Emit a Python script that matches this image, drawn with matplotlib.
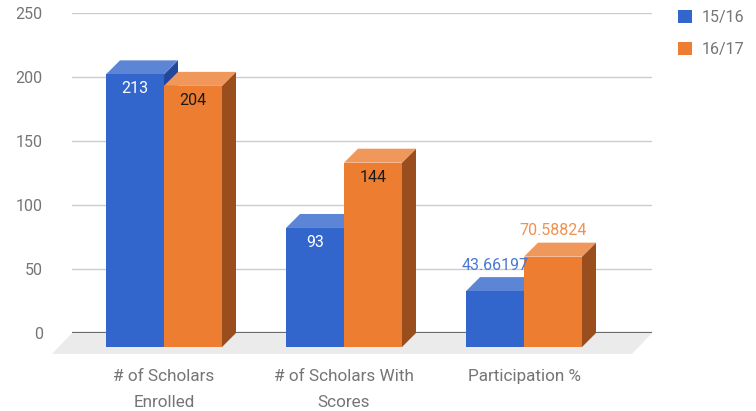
import matplotlib
matplotlib.use("Agg")
import matplotlib.pyplot as plt
from matplotlib.transforms import ScaledTranslation, IdentityTransform
from matplotlib.patches import Polygon, Patch
import numpy as np

# ---- data ----
categories = ["# of Scholars\nEnrolled", "# of Scholars With\nScores", "Participation %"]
series_names = ["15/16", "16/17"]
values_1516 = [213, 93, 43.66197]
values_1617 = [204, 144, 70.58824]
yticks = [0, 50, 100, 150, 200, 250]

# ---- style ----
front_cols = ["#3366cc", "#ed7d31"]
top_cols = ["#5c85d6", "#f0985c"]
side_cols = ["#23489a", "#9a4e1e"]
in_label_cols = ["#ffffff", "#1a1a1a"]
out_label_cols = ["#4a78d2", "#f0924f"]
tick_col = "#757575"
FS = 11.5
plt.rcParams["font.family"] = ["Roboto", "DejaVu Sans"]

DPI = 100
W, H = 756, 411
fig = plt.figure(figsize=(W / DPI, H / DPI), dpi=DPI)
ax = fig.add_axes([72 / W, 78 / H, 580 / W, 320 / H])

n = len(categories)
x = np.arange(n)
bw = 0.3222
ax.set_xlim(-0.5889, 2.6333)
ax.set_ylim(0, 250)
for s in ax.spines.values():
    s.set_visible(False)
ax.set_xticks([])
ax.set_yticks(yticks)
ax.tick_params(axis="y", length=0, pad=21, labelsize=FS, labelcolor=tick_col)
for lab in ax.get_yticklabels():
    lab.set_fontfamily(["Roboto", "DejaVu Sans"])

DX, DY = 14, 14
front = ax.transData + ScaledTranslation(-DX / DPI, -DY / DPI, fig.dpi_scale_trans)

# gridlines on the back wall
for t in yticks[1:]:
    ax.axhline(t, color="#cccccc", lw=1.0, zorder=0.5)
ax.axhline(0, color="#6b6b6b", lw=1.6, zorder=1.0)

# floor
floor_off = ScaledTranslation(-20 / DPI, -21 / DPI, fig.dpi_scale_trans)
bl = ax.transAxes.transform([(0, 0), (1, 0)])
fl = (ax.transAxes + floor_off).transform([(1, 0), (0, 0)])
floor = Polygon(np.vstack([bl, fl]), closed=True, transform=IdentityTransform(),
                facecolor="#ebebeb", edgecolor="none", zorder=0.3, clip_on=False)
ax.add_artist(floor)

all_vals = [values_1516, values_1617]
offsets = [-bw / 2, bw / 2]
for k, vals in enumerate(all_vals):
    bars = ax.bar(x + offsets[k], vals, width=bw, color=front_cols[k],
                  edgecolor="none", zorder=2.2 + k)
    for i, r in enumerate(bars):
        r.set_transform(front)
        r.set_clip_on(False)
        x0, w, h = r.get_x(), r.get_width(), r.get_height()
        fp = front.transform([(x0, 0), (x0 + w, 0), (x0 + w, h), (x0, h)])
        bp = ax.transData.transform([(x0, 0), (x0 + w, 0), (x0 + w, h), (x0, h)])
        side = Polygon([fp[1], fp[2], bp[2], bp[1]], closed=True, transform=IdentityTransform(),
                       facecolor=side_cols[k], edgecolor="none", zorder=2.0 + k, clip_on=False)
        top = Polygon([fp[3], fp[2], bp[2], bp[3]], closed=True, transform=IdentityTransform(),
                      facecolor=top_cols[k], edgecolor="none", zorder=2.1 + k, clip_on=False)
        ax.add_artist(side)
        ax.add_artist(top)
        txt = f"{vals[i]}"
        if len(txt) <= 4:
            ax.annotate(txt, xy=(x0 + w / 2, h), xycoords=front, xytext=(0, -14.5),
                        textcoords="offset pixels", ha="center", va="center",
                        color=in_label_cols[k], fontsize=FS, zorder=5)
        else:
            ax.annotate(txt, xy=(x0 + w / 2, h), xycoords=front, xytext=(0, 26),
                        textcoords="offset pixels", ha="center", va="center",
                        color=out_label_cols[k], fontsize=FS, zorder=5)

# category labels
for i, c in enumerate(categories):
    ax.annotate(c, xy=(x[i], 0), xycoords=front, xytext=(0, -22),
                textcoords="offset pixels", ha="center", va="top",
                color=tick_col, fontsize=12.3, linespacing=1.9, annotation_clip=False)

handles = [Patch(facecolor=front_cols[k], edgecolor="none") for k in range(2)]
fig.legend(handles, series_names, loc="upper left", bbox_to_anchor=(664 / W, 1 + 4 / H),
           frameon=False, fontsize=FS, labelcolor=tick_col, handlelength=0.85,
           handleheight=0.85, handletextpad=0.6, labelspacing=1.05)

fig.savefig("out.png", dpi=DPI)
